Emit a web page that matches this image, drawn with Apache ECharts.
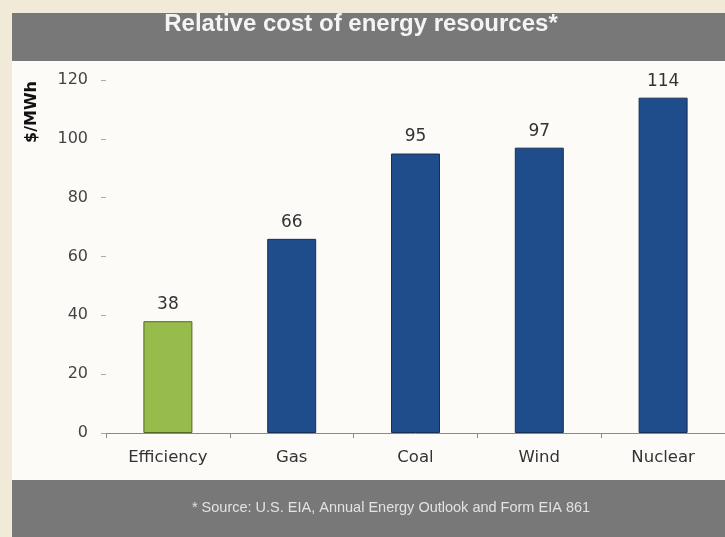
<!DOCTYPE html>
<html>
<head>
<meta charset="utf-8">
<script src="https://cdn.jsdelivr.net/npm/echarts@6/dist/echarts.min.js"></script>
<style>
html,body{margin:0;padding:0;background:#f2ead9;}
#c{width:725px;height:537px;}
</style>
</head>
<body>
<div id="c"></div>
<script>
const categories = ['Efficiency', 'Gas', 'Coal', 'Wind', 'Nuclear'];
const costValues = [38, 66, 95, 97, 114];
const barColors = ['#98bc4b', '#1f4c8a', '#1f4c8a', '#1f4c8a', '#1f4c8a'];
const barBorders = ['#4f6a22', '#16305a', '#16305a', '#16305a', '#16305a'];
const yTicks = [0, 20, 40, 60, 80, 100, 120];

const chart = echarts.init(document.getElementById('c'), null, {renderer: 'canvas'});
const option = {
  backgroundColor: '#f2ead9',
  animation: false,
  graphic: [
    {type: 'rect', z: -10, silent: true, shape: {x: 12, y: 13, width: 713, height: 48}, style: {fill: '#787878'}},
    {type: 'rect', z: -10, silent: true, shape: {x: 12, y: 61, width: 713, height: 419}, style: {fill: '#fcfbf8'}},
    {type: 'rect', z: -10, silent: true, shape: {x: 12, y: 480, width: 713, height: 57}, style: {fill: '#787878'}},
    {type: 'text', x: 361, y: 24, style: {text: 'Relative cost of energy resources*', fill: '#f4f4f4', font: 'bold 24px "Liberation Sans", Arial, sans-serif', textAlign: 'center', textVerticalAlign: 'middle'}},
    {type: 'text', x: 391, y: 508, style: {text: '* Source: U.S. EIA, Annual Energy Outlook and Form EIA 861', fill: '#e2e2e2', font: '14.5px "Liberation Sans", Arial, sans-serif', textAlign: 'center', textVerticalAlign: 'middle'}},
    {type: 'text', x: 32, y: 112, rotation: Math.PI / 2, style: {text: '$/MWh', fill: '#111', font: 'bold 16px "DejaVu Sans", sans-serif', textAlign: 'center', textVerticalAlign: 'middle'}}
  ],
  grid: {left: 106, right: -6, top: 80, bottom: 104, containLabel: false},
  xAxis: {
    type: 'category',
    data: categories,
    axisLine: {show: true, lineStyle: {color: '#8a8a8a', width: 1}},
    axisTick: {show: true, length: 5, lineStyle: {color: '#8a8a8a'}},
    axisLabel: {color: '#333', fontSize: 16.5, fontFamily: '"DejaVu Sans", sans-serif', margin: 16}
  },
  yAxis: {
    type: 'value',
    min: yTicks[0],
    max: yTicks[yTicks.length - 1],
    interval: 20,
    axisLine: {show: false},
    axisTick: {show: true, length: 5, lineStyle: {color: '#aaa'}},
    splitLine: {show: false},
    axisLabel: {color: '#444', fontSize: 16, fontFamily: '"DejaVu Sans", sans-serif', margin: 18}
  },
  series: [{
    type: 'bar',
    barWidth: 49,
    data: costValues.map((v, i) => ({
      value: v,
      itemStyle: {color: barColors[i], borderColor: barBorders[i], borderWidth: 1}
    })),
    label: {show: true, position: 'top', distance: 8, color: '#333', fontSize: 17, fontFamily: '"DejaVu Sans", sans-serif'}
  }]
};
chart.setOption(option);
</script>
</body>
</html>
